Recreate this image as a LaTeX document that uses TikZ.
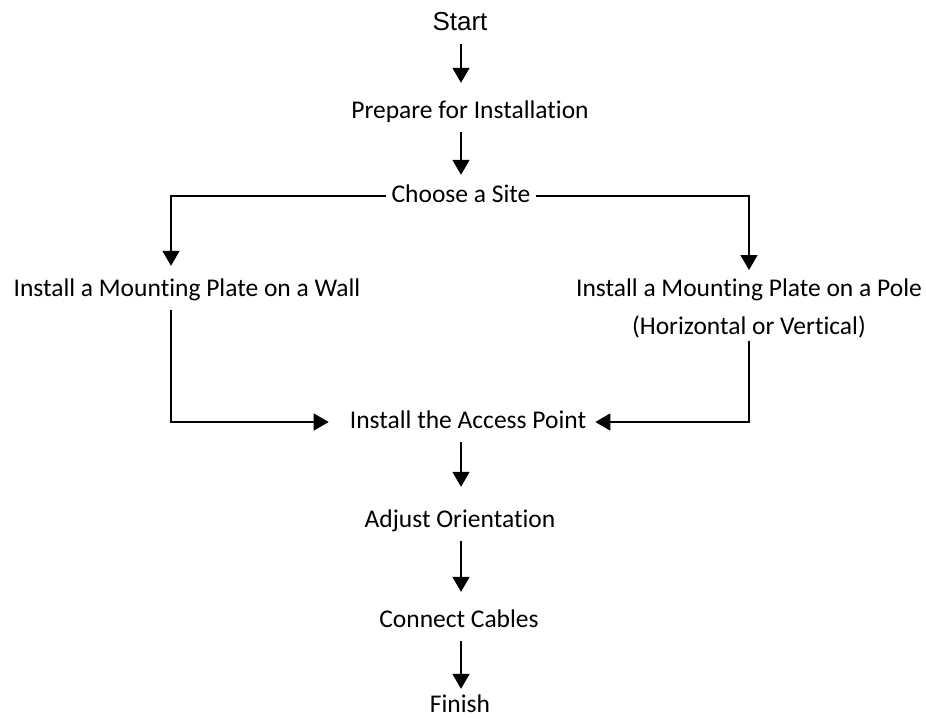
\documentclass[tikz,border=0pt]{standalone}
\usepackage{fontspec}
\setmainfont{Carlito}[Ligatures=NoCommon]
\newfontfamily\arialfont{Liberation Sans}
\usetikzlibrary{arrows.meta}

\tikzset{
	stage/.style={inner sep=0pt, text height=18pt, text depth=6pt, anchor=base,
		font=\fontsize{25.5}{38}\selectfont},
	polebox/.style={inner sep=0pt, align=center, anchor=north,
		font=\fontsize{25.5}{38}\selectfont},
	flow/.style={line width=1.4pt, -{Triangle[width=17pt,length=15pt]}},
	link/.style={line width=1.4pt},
}

\begin{document}
\begin{tikzpicture}[x=1pt, y=-1pt]
	\useasboundingbox (0,0) rectangle (926,718);

% The steps
	\node[stage, font=\arialfont\fontsize{26}{30}\selectfont] (start) at (460,30) {Start};
	\node[stage] (prep) at (470,118) {Prepare for Installation};
	\node[stage] (choose) at (461,202) {Choose a Site};
	\node[stage] (wall) at (187,296) {Install a Mounting Plate on a Wall};
	\node[polebox] (pole) at (749,279) {Install a Mounting Plate on a Pole\\(Horizontal or Vertical)};
	\node[stage] (access) at (468,428) {Install the Access Point};
	\node[stage] (adjust) at (460,527) {Adjust Orientation};
	\node[stage] (connect) at (459,627) {Connect Cables};
	\node[stage] (finish) at (460,712) {Finish};

	\coordinate (spine) at (461,0);
	\coordinate (walldrop) at (171,0);

	% Straight down the middle
	\foreach \a/\b/\g in {start/prep/17, prep/choose/9, access/adjust/22, adjust/connect/17, connect/finish/5}{
		\draw[flow, shorten <=8pt, shorten >=\g pt] (\a.south -| spine) -- (\b.north -| spine);
	}

	% Split at the site
	\draw[flow, shorten <=5pt, shorten >=12pt] (choose.west) -| (wall.north -| walldrop);
	\draw[flow, shorten <=5pt, shorten >=9pt] (choose.east) -| (pole.north);

	% Join at the access point
	\draw[flow, shorten <=8pt, shorten >=21pt] (wall.south -| walldrop) |- (access.west);
	\draw[flow, shorten <=2pt, shorten >=9pt] (pole.south) |- (access.east);
\end{tikzpicture}
\end{document}
